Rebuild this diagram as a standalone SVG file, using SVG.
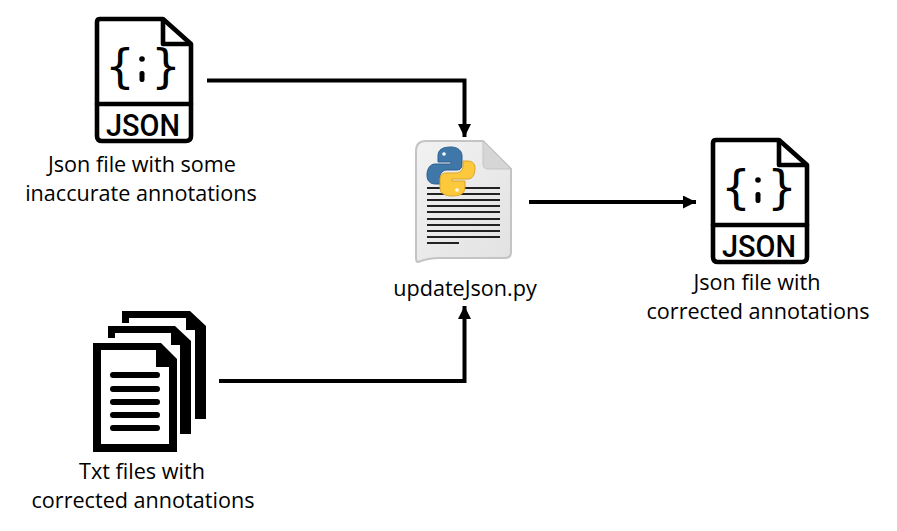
<svg xmlns="http://www.w3.org/2000/svg" width="897" height="531" viewBox="0 0 897 531">
<style>
.l{font-family:"Open Sans","Noto Sans","Liberation Sans",sans-serif;font-size:21.6px;fill:#000;text-anchor:middle}
.c{fill:none;stroke:#000;stroke-width:4}
.k{fill:none;stroke:#000;stroke-width:4.6;stroke-linejoin:round;stroke-linecap:round}
.j{font-family:Roboto,"Liberation Sans",sans-serif;font-weight:500;font-size:32px;fill:#000;text-anchor:middle}
.b{font-family:"DejaVu Sans","Liberation Sans",sans-serif;font-size:47px;fill:#000;text-anchor:middle}
.d{stroke:#222;stroke-width:1.9}
.t{stroke:#000;stroke-width:6;stroke-linecap:round}
</style>
<defs>
<marker id="a" markerUnits="userSpaceOnUse" markerWidth="14" markerHeight="13" refX="13" refY="6.5" orient="auto"><path d="M0 0L13 6.5L0 13Z" fill="#000"/></marker>
<linearGradient id="paper" x1="0" y1="0" x2="1" y2="1"><stop offset="0" stop-color="#f2f2f2"/><stop offset="1" stop-color="#e2e2e2"/></linearGradient>
<g id="jsonIcon">
<path class="k" d="M5 2H68L96 27V119Q96 124 91 124H7Q2 124 2 119V5Q2 2 5 2Z"/>
<path class="k" d="M68 3V27H95"/>
<path class="k" d="M2 87H96"/>
<text class="b" x="25" y="65">{</text>
<text class="b" x="71" y="65">}</text>
<circle cx="47" cy="42" r="2.8"/>
<rect x="44.5" y="54" width="5" height="11" rx="2.2"/>
<text class="j" x="48" y="119" textLength="74" lengthAdjust="spacingAndGlyphs">JSON</text>
</g>
</defs>
<g id="connectors">
<path class="c" d="M207 80.500H464.500V137" marker-end="url(#a)"/>
<path class="c" d="M529 202H696" marker-end="url(#a)"/>
<path class="c" d="M219 381H464.500V306" marker-end="url(#a)"/>
</g>
<g id="json-in">
<use href="#jsonIcon" x="95" y="17"/>
<text class="l" x="142" y="171.500">Json file with some</text>
<text class="l" x="141" y="200.500">inaccurate annotations</text>
</g>
<g id="script">
<path d="M426 141H483L511 169V252Q511 258 505 258H440Q428 258 418 262Q416 262 416 258V151Q416 141 426 141Z" fill="url(#paper)" stroke="#c4c4c4" stroke-width="2"/>
<path d="M483 141V164Q483 169 488 169H511Z" fill="#d6d6d6" stroke="#c4c4c4"/>
<g class="d">
<path d="M427 188H500M427 194H500M427 200H500M427 206H500M427 212H500M427 219H500M427 225H500M427 231H500M427 237H500M427 243H459"/>
</g>
<path d="M451 147C442 147 438 150 438 156V162H451V164H435C430 164 427 169 427 175C427 181 430 184 436 184H440V177C440 173 443 170 447 170H457C460 170 462 168 462 165V156C462 151 458 147 451 147Z" fill="#3f78a8" stroke="#2d5f8e"/>
<path d="M452 196C461 196 465 193 465 187V181H452V179H468C473 179 475 174 475 168C475 163 472 161 467 161H463V166C463 170 460 173 456 173H446C442 173 440 176 440 179V188C440 193 445 196 452 196Z" fill="#fdc93c" stroke="#dca42a"/>
<circle cx="444" cy="154" r="1.8" fill="#fff"/>
<circle cx="457" cy="190" r="1.8" fill="#fff"/>
<text class="l" x="465" y="295.500">updateJson.py</text>
</g>
<g id="json-out">
<use href="#jsonIcon" x="711" y="138"/>
<text class="l" x="757" y="289.500">Json file with</text>
<text class="l" x="758" y="318.500">corrected annotations</text>
</g>
<g id="txt-files">
<path d="M122 323V311H190L206 326V419H195V330H186V318H129V323Z"/>
<path d="M108 338V326H175L191 341V434H180V345H171V333H115V338Z"/>
<path fill-rule="evenodd" d="M93 343H161L177 359V452H93ZM101 350H156V367H169V444H101Z"/>
<path class="t" d="M113 375H157M113 389H157M113 402H157M113 415H157M113 428H157"/>
<text class="l" x="142" y="478.500">Txt files with</text>
<text class="l" x="143" y="507.500">corrected annotations</text>
</g>
</svg>
